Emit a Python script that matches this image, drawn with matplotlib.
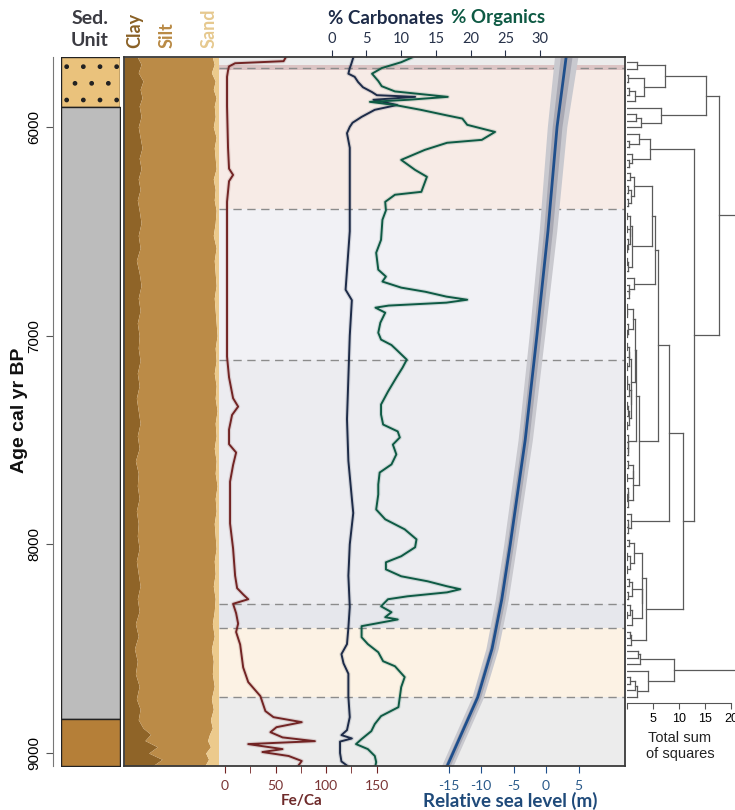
import numpy as np
import matplotlib
matplotlib.use("Agg")
import matplotlib.pyplot as plt

plt.rcParams["font.family"] = ["Lato", "DejaVu Sans"]
plt.rcParams["axes.unicode_minus"] = False

# ---- data ----
# sedimentary units (age cal yr BP)
unit_top = [5665, 5905, 8837]
unit_bot = [5905, 8837, 9062]
unit_col = ["#eac27c", "#bcbcbc", "#b57f38"]

# zones of the cluster analysis
zone_edges = [5665, 5703, 5727, 6392, 7115, 8287, 8402, 8732, 9062]
zone_cols = ["#ececec", "#dcc4c4", "#f7ebe6", "#f1f1f5", "#ececf0", "#e6e7ec", "#fcf2e4", "#ececec"]
zone_lines = [5718, 6392, 7115, 8287, 8402, 8732]

# grain size (%)
grain_age = [5665, 5700, 5740, 5780, 5820, 5860, 5900, 5950, 6000, 6050, 6100, 6150, 6200,
             6250, 6300, 6350, 6400, 6460, 6520, 6580, 6640, 6700, 6760, 6820, 6880, 6940,
             7000, 7060, 7120, 7180, 7240, 7300, 7360, 7420, 7480, 7540, 7600, 7660, 7720,
             7780, 7840, 7900, 7960, 8020, 8080, 8140, 8200, 8260, 8320, 8380, 8440, 8500,
             8560, 8620, 8680, 8740, 8790, 8840, 8880, 8910, 8940, 8970, 9000, 9030, 9062]
clay = [14, 18, 15, 20, 17, 19, 16, 18, 15, 17, 19, 16, 18, 15, 17, 14, 16, 18, 15, 17, 13,
        16, 18, 15, 17, 14, 16, 15, 17, 14, 16, 13, 15, 17, 14, 16, 12, 15, 14, 16, 13, 15,
        14, 16, 13, 15, 17, 14, 16, 12, 15, 11, 14, 12, 16, 13, 17, 15, 20, 28, 22, 35, 26,
        40, 30]
sand = [7, 5, 8, 4, 6, 3, 5, 4, 6, 3, 5, 4, 3, 6, 4, 5, 3, 4, 6, 3, 5, 4, 3, 5, 4, 3, 2, 4,
        3, 5, 3, 4, 2, 4, 3, 5, 3, 4, 2, 4, 3, 5, 4, 3, 5, 4, 6, 4, 5, 7, 5, 8, 6, 7, 5, 8, 6,
        9, 7, 10, 12, 9, 14, 11, 15]

# Fe/Ca
fe_age = [5668, 5685, 5695, 5710, 5730, 5760, 5900, 6100, 6200, 6230, 6260, 6359, 6600,
          6900, 7100, 7200, 7300, 7340, 7380, 7450, 7520, 7560, 7620, 7700, 7900, 8020,
          8150, 8210, 8240, 8263, 8285, 8330, 8380, 8420, 8480, 8590, 8660, 8727, 8799,
          8828, 8852, 8876, 8900, 8925, 8943, 8957, 8981, 8995, 9014, 9038, 9058]
fe_ca = [60, 58, 10, 4, 3, 2, 2, 3, 4, 8, 4, 2, 2, 2, 2, 4, 8, 13, 7, 4, 4, 11, 8, 5, 5, 8,
         10, 12, 18, 23, 8, 11, 13, 11, 15, 18, 23, 35, 40, 48, 76, 51, 45, 57, 89, 23, 57,
         37, 63, 76, 73]

# carbonates (%)
carb_age = [5668, 5700, 5718, 5745, 5760, 5785, 5810, 5833, 5848, 5856, 5870, 5895, 5918,
            5952, 5980, 6000, 6030, 6100, 6300, 6500, 6780, 6830, 7000, 7200, 7400, 7600,
            7780, 7850, 8000, 8150, 8300, 8400, 8478, 8526, 8570, 8620, 8730, 8828, 8890,
            8914, 8930, 8945, 9000, 9040, 9060]
carb = [3.1, 2.8, 2.6, 2.4, 3.3, 3.8, 4.5, 5.8, 6.5, 12.0, 6.0, 9.4, 6.2, 4.3, 3.0, 2.6,
        2.2, 2.6, 2.6, 2.6, 2.0, 2.9, 2.6, 2.4, 2.2, 2.4, 2.9, 3.1, 2.6, 2.4, 2.6, 2.4, 2.2,
        1.4, 1.7, 2.4, 2.4, 2.6, 2.2, 1.4, 2.9, 1.2, 1.2, 1.4, 2.2]

# organics (%)
org_age = [5668, 5690, 5718, 5745, 5780, 5805, 5830, 5856, 5870, 5880, 5895, 5918, 5945,
           5960, 5990, 6024, 6062, 6076, 6110, 6158, 6206, 6239, 6311, 6325, 6359, 6400,
           6445, 6541, 6603, 6684, 6717, 6741, 6770, 6790, 6813, 6828, 6842, 6856, 6866,
           6890, 6938, 6986, 7019, 7045, 7067, 7115, 7153, 7201, 7268, 7330, 7378, 7426,
           7459, 7488, 7522, 7569, 7617, 7656, 7713, 7761, 7833, 7880, 7928, 7976, 8014,
           8057, 8086, 8120, 8153, 8177, 8201, 8215, 8230, 8249, 8263, 8297, 8325, 8349,
           8360, 8392, 8445, 8478, 8517, 8560, 8584, 8636, 8684, 8732, 8780, 8823, 8861,
           8895, 8933, 8957, 8981, 9014, 9043, 9060]
org = [11.5, 10.0, 7.2, 5.8, 6.7, 7.2, 9.1, 16.7, 11.0, 5.5, 9.1, 12.8, 16.6, 18.8, 19.5,
       23.5, 21.6, 16.6, 13.4, 10.0, 12.0, 13.7, 12.9, 9.1, 7.7, 7.8, 7.3, 7.1, 6.4, 6.7,
       7.8, 7.3, 10.0, 13.5, 16.5, 19.5, 16.5, 8.2, 6.3, 7.7, 7.0, 6.7, 7.1, 8.6, 9.3, 10.8,
       10.2, 9.3, 8.1, 7.1, 7.1, 7.4, 9.5, 9.8, 8.8, 9.3, 8.6, 6.9, 6.7, 6.7, 6.4, 7.7, 10.5,
       12.2, 12.0, 10.0, 7.8, 7.8, 10.0, 13.8, 16.6, 18.5, 16.6, 10.9, 8.1, 7.1, 8.6, 7.7,
       9.5, 4.3, 4.3, 5.2, 6.7, 7.4, 9.1, 10.5, 10.0, 9.8, 9.6, 7.1, 6.2, 5.7, 4.3, 3.5, 5.2,
       6.2, 6.4, 6.3]

# relative sea level (m) with uncertainty
sl_age = [5665, 6000, 6500, 7000, 7500, 8000, 8263, 8500, 8732, 9062]
sl_rsl = [3.1, 1.7, 0.3, -1.4, -3.2, -5.5, -6.8, -8.3, -10.5, -15.2]
sl_err = [1.8, 1.5, 1.35, 1.2, 1.1, 1.0, 1.0, 0.95, 0.9, 0.9]

W, H = 735, 810
AGE_TOP, AGE_BOT = 5665, 9062
FE_COL = "#722424"
CARB_COL = "#1d2b48"
ORG_COL = "#0e5a44"
SL_COL = "#1f4f8c"

fig = plt.figure(figsize=(W / 100, H / 100), dpi=100)


def px_axes(x0, y0, x1, y1):
    ax = fig.add_axes([x0 / W, 1 - y1 / H, (x1 - x0) / W, (y1 - y0) / H])
    ax.set_ylim(AGE_BOT, AGE_TOP)
    ax.patch.set_alpha(0)
    return ax


def clean(ax):
    for s in ax.spines.values():
        s.set_visible(False)
    ax.set_xticks([])
    ax.set_yticks([])


# ---- sediment units ----
ax_sed = px_axes(61, 57, 120, 766)
ax_sed.set_xlim(0, 1)
for top, bot, col in zip(unit_top, unit_bot, unit_col):
    ax_sed.fill_between([0, 1], top, bot, facecolor=col, edgecolor="#222222", lw=1,
                        hatch="." if col == unit_col[0] else None)
for s in ["top", "right", "bottom"]:
    ax_sed.spines[s].set_visible(False)
ax_sed.spines["left"].set_position(("outward", 6))
ax_sed.spines["left"].set_color("#777777")
ax_sed.set_xticks([])
ax_sed.set_yticks([6000, 7000, 8000, 9000])
ax_sed.set_yticklabels(["6000", "7000", "8000", "9000"], rotation=90, va="center",
                       family="Liberation Sans", fontsize=11)
ax_sed.tick_params(axis="y", length=5, color="#555555", pad=3)

# ---- grain size ----
ax_gr = px_axes(124, 57, 219, 766)
ax_gr.set_xlim(0, 100)
clay_a = np.array(clay)
silt_top = 100 - np.array(sand)
ax_gr.fill_betweenx(grain_age, 0, clay_a, color="#8f6428", lw=0)
ax_gr.fill_betweenx(grain_age, clay_a, silt_top, color="#bb8b47", lw=0)
ax_gr.fill_betweenx(grain_age, silt_top, 100, color="#ecca8c", lw=0)
clean(ax_gr)

# ---- zones ----
ax_bg = px_axes(219, 57, 625, 766)
ax_bg.set_xlim(0, 1)
for a, b, col in zip(zone_edges[:-1], zone_edges[1:], zone_cols):
    ax_bg.axhspan(a, b, color=col, lw=0)
for a in zone_lines:
    ax_bg.axhline(a, color="#8c8c8c", lw=1, dashes=(6, 4))
clean(ax_bg)

# ---- Fe/Ca ----
ax_fe = px_axes(219, 57, 625, 766)
ax_fe.set_xlim(-6 / 1.01, 400 / 1.01)
ax_fe.plot(fe_ca, fe_age, color=FE_COL, lw=3, alpha=0.15)
ax_fe.plot(fe_ca, fe_age, color=FE_COL, lw=1.4)
clean(ax_fe)
ax_fe.set_xticks([0, 50, 100, 150])
ax_fe.set_xticks([25, 75, 125], minor=True)
ax_fe.tick_params(axis="x", which="both", length=5, color=FE_COL, labelcolor="#7a3535",
                  labelsize=10, pad=5)

# ---- carbonates / organics ----
ax_cs = px_axes(219, 57, 625, 766)
ax_cs.set_xlim(-112.7 / 6.95, 293.3 / 6.95)
for vals, ages, col in [(carb, carb_age, CARB_COL), (org, org_age, ORG_COL)]:
    ax_cs.plot(vals, ages, color=col, lw=3, alpha=0.15)
    ax_cs.plot(vals, ages, color=col, lw=1.4)
clean(ax_cs)
ax_cs.xaxis.tick_top()
ax_cs.set_xticks(range(0, 31, 5))
ax_cs.tick_params(axis="x", length=5, color="#27324a", labelcolor="#27324a",
                  labelsize=10.5, pad=3)

# ---- sea level ----
ax_sl = px_axes(219, 57, 625, 766)
ax_sl.set_xlim(-327 / 6.5, 79 / 6.5)
rsl = np.array(sl_rsl)
err = np.array(sl_err)
ax_sl.fill_betweenx(sl_age, rsl - err, rsl + err, color="#c9c9cf", lw=0)
ax_sl.fill_betweenx(sl_age, rsl - err / 2, rsl + err / 2, color="#a8a8b3", lw=0)
ax_sl.plot(rsl, sl_age, color=SL_COL, lw=2)
clean(ax_sl)
ax_sl.set_xticks([-15, -10, -5, 0, 5])
ax_sl.tick_params(axis="x", length=5, color=SL_COL, labelcolor="#2a5a8a",
                  labelsize=10, pad=5)

# ---- frame ----
ax_box = px_axes(124, 57, 625, 766)
ax_box.set_xticks([])
ax_box.set_yticks([])
for s in ax_box.spines.values():
    s.set_color("#3a3a3a")
    s.set_linewidth(1.3)


# ---- constrained cluster analysis (CONISS) ----
def coniss(data):
    members = [[i] for i in range(len(data))]
    nodes = [(0.0, float(i)) for i in range(len(data))]
    segs = []
    total = 0.0

    def ss(idx):
        d = data[idx]
        return ((d - d.mean(0)) ** 2).sum()

    while len(members) > 1:
        costs = [ss(members[k] + members[k + 1]) - ss(members[k]) - ss(members[k + 1])
                 for k in range(len(members) - 1)]
        k = int(np.argmin(costs))
        total += costs[k]
        (h1, y1), (h2, y2) = nodes[k], nodes[k + 1]
        segs += [([h1, total], [y1, y1]), ([h2, total], [y2, y2]), ([total, total], [y1, y2])]
        members[k:k + 2] = [members[k] + members[k + 1]]
        nodes[k:k + 2] = [(total, (y1 + y2) / 2)]
    return segs


samp = np.array(org_age, float)
X = np.column_stack([org, np.interp(samp, carb_age, carb), np.interp(samp, fe_age, fe_ca),
                     np.interp(samp, grain_age, clay), np.interp(samp, grain_age, sand)])
X = (X - X.mean(0)) / X.std(0) * 0.25
segs = coniss(X)

n = len(samp)
k = (n - 1) / 635
ax_d = fig.add_axes([627 / W, 1 - 703 / H, 21.5 * 5.2 / W, 646 / H])
ax_d.patch.set_alpha(0)
for xs, ys in segs:
    ax_d.plot(xs, ys, color="#5a5a5a", lw=0.9)
ax_d.set_xlim(0, 21.5)
ax_d.set_ylim(n - 1 + 6 * k, -5 * k)
for s in ["top", "right", "left"]:
    ax_d.spines[s].set_visible(False)
ax_d.spines["bottom"].set_bounds(0, 20)
ax_d.spines["bottom"].set_color("#555555")
ax_d.spines["bottom"].set_linewidth(0.8)
ax_d.set_yticks([])
ax_d.set_xticks([0, 5, 10, 15, 20])
ax_d.set_xticklabels(["", "5", "10", "15", "20"], family="Liberation Sans")
ax_d.tick_params(axis="x", length=4, color="#555555", labelsize=9, pad=3)
fig.text(680 / W, 1 - 746 / H, "Total sum\nof squares", ha="center", va="center",
         family="Liberation Sans", fontsize=10.5, color="#222222", linespacing=1.1)

# ---- titles ----
fig.text(90 / W, 1 - 19 / H, "Sed.", ha="center", va="center", fontsize=14,
         fontweight="bold", color="#3b3b42")
fig.text(90 / W, 1 - 41 / H, "Unit", ha="center", va="center", fontsize=14,
         fontweight="bold", color="#3b3b42")
for label, xc, col in [("Clay", 135, "#8a6126"), ("Silt", 167, "#b98a45"),
                       ("Sand", 209, "#e6c98f")]:
    fig.text(xc / W, 1 - 48 / H, label, rotation=90, ha="center", va="bottom",
             fontsize=13, fontweight="bold", color=col)
fig.text(444 / W, 1 - 18 / H, "% Carbonates", ha="right", va="center", fontsize=13.5,
         fontweight="bold", color=CARB_COL)
fig.text(451 / W, 1 - 18 / H, "% Organics", ha="left", va="center", fontsize=13.5,
         fontweight="bold", color=ORG_COL)
fig.text(302 / W, 1 - 801 / H, "Fe/Ca", ha="center", va="center", fontsize=11,
         fontweight="bold", color="#6e2a2a")
fig.text(510 / W, 1 - 801 / H, "Relative sea level (m)", ha="center", va="center",
         fontsize=13.5, fontweight="bold", color="#1f4a7a")
fig.text(20 / W, 1 - 410 / H, "Age cal yr BP", rotation=90, ha="center", va="center",
         family="Liberation Sans", fontsize=14, fontweight="bold", color="#111111")

fig.savefig("out.png", dpi=100)
